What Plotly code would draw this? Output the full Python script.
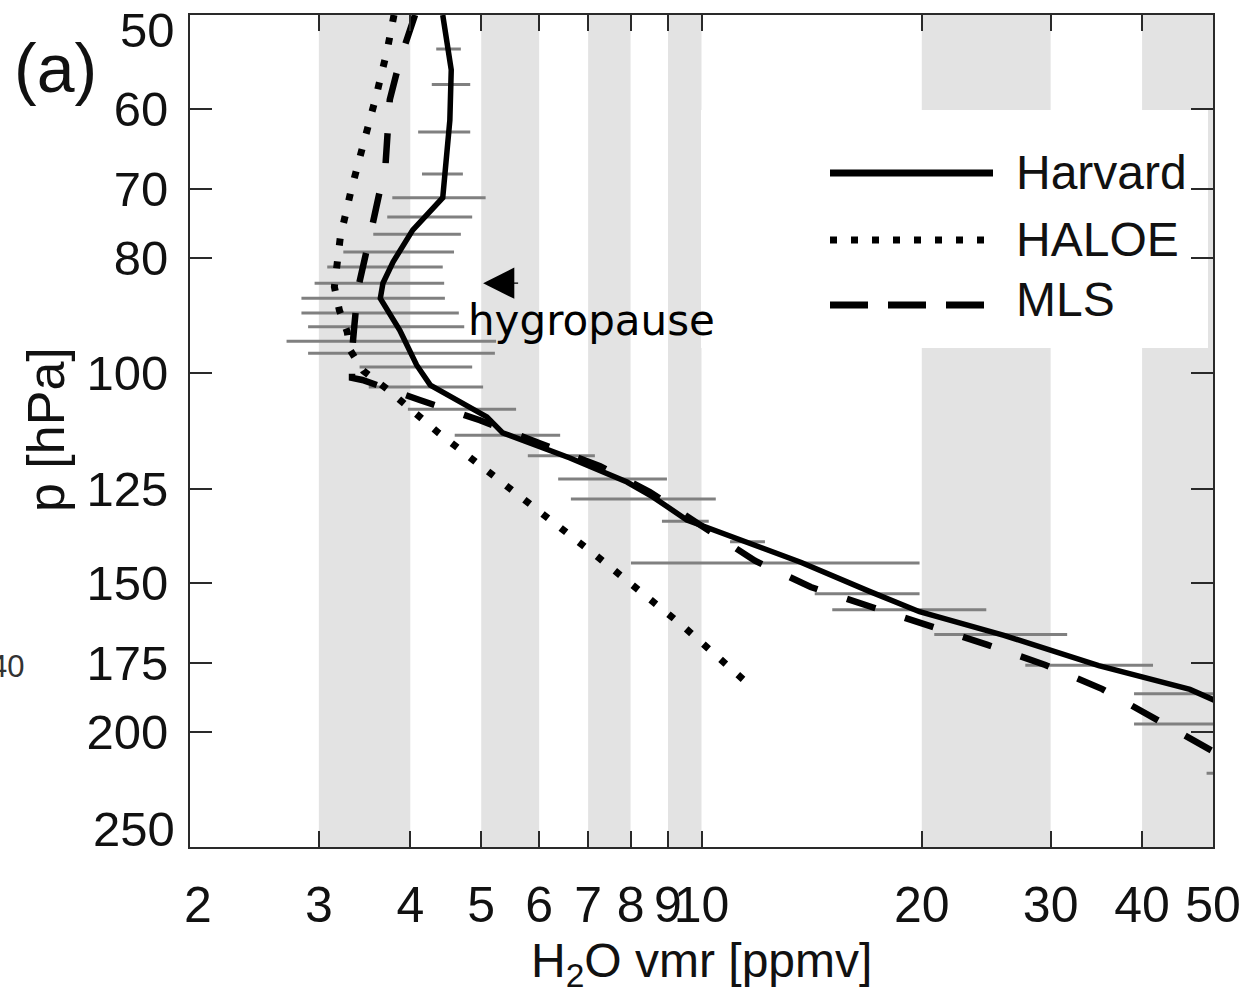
import plotly.graph_objects as go
import math

# ---------------- data ----------------
harvard_vmr = [4.43, 4.55, 4.53, 4.43, 4.03, 3.79, 3.67, 3.64, 3.87, 4.08, 4.26, 4.68, 5.09,
               5.35, 6.61, 7.91, 8.58, 9.55, 12.40, 13.69, 16.93, 19.86, 25.9, 34.9, 46.5, 50.5]
harvard_p = [50, 55.6, 61.3, 71.2, 75.8, 80.6, 84.0, 86.5, 92.0, 98.4, 102.3, 105.7, 108.8,
             112.2, 117.8, 123.4, 127.0, 132.8, 140.8, 144.2, 152.4, 158.6, 166.0, 176.0, 184.3, 188.5]

mls_vmr = [4.06, 3.87, 3.75, 3.70, 3.55, 3.39, 3.35, 3.33, 3.33, 3.44, 4.12, 4.98, 6.01,
           7.27, 8.50, 9.95, 11.83, 14.1, 16.98, 20.5, 24.6, 29.5, 35.3, 42.0, 50.5]
mls_p = [50, 54.6, 58.9, 66.8, 75.1, 85.1, 92.0, 96.0, 100.9, 101.3, 105.3, 109.5, 114.5,
         119.7, 125.8, 134.1, 143.7, 151.2, 156.9, 163.0, 169.1, 175.8, 184.2, 195.6, 208.5]

haloe_vmr = [3.80, 3.72, 3.59, 3.45, 3.32, 3.21, 3.15, 3.20, 3.28, 3.31, 3.45, 3.72, 4.37,
             7.19, 9.43, 11.75]
haloe_p = [50, 53.5, 58.6, 64.0, 70.2, 76.8, 84.6, 88.5, 92.3, 95.6, 99.5, 103.1, 112.2,
           142.4, 163.0, 183.8]

# variability range of the Harvard data (horizontal grey bars)
range_p = [53.4, 57.2, 62.7, 68.0, 71.2, 73.9, 76.4, 79.1, 81.4, 84.0, 86.5, 89.0, 91.4,
           94.0, 96.2, 98.8, 102.7, 107.2, 112.7, 117.3, 122.7, 127.5, 133.1, 138.5, 144.3,
           153.2, 158.0, 165.7, 175.9, 185.9, 197.1, 216.8]
range_lo = [4.34, 4.28, 4.10, 4.15, 3.78, 3.72, 3.56, 3.24, 3.08, 2.96, 2.84, 2.84, 2.90,
            2.71, 2.90, 3.41, 3.51, 3.97, 4.60, 5.79, 6.37, 6.63, 8.83, 10.94, 8.01,
            14.28, 15.09, 20.8, 27.7, 39.0, 39.0, 49.0]
range_hi = [4.69, 4.83, 4.83, 4.72, 5.07, 4.86, 4.69, 4.59, 4.43, 4.45, 4.46, 4.66, 4.74,
            5.24, 5.22, 4.86, 5.03, 5.58, 6.41, 7.15, 8.97, 10.46, 10.23, 12.21, 19.86,
            19.86, 24.5, 31.6, 41.4, 50.0, 55.0, 55.0]

# shaded vmr intervals
band_lo = [3, 5, 7, 9, 20, 40]
band_hi = [4, 6, 8, 10, 30, 50]

x_ticks = [2, 3, 4, 5, 6, 7, 8, 9, 10, 20, 30, 40, 50]
y_ticks = [50, 60, 70, 80, 100, 125, 150, 175, 200, 250]

series_names = ["Harvard", "HALOE", "MLS"]

# ---------------- styling / layout helpers ----------------
W, H = 1253, 992
PL, PR, PT, PB = 190, 1213, 15, 847
FONT = "Liberation Sans, Arial, sans-serif"
AXC = "#2a2a2a"
TXT = "#111"


def fx(px):
    return (px - PL) / (PR - PL)


def fy(py):
    return (PB - py) / (PB - PT)


DOT = "7px,16px"
DASH = "30px,31px"

fig = go.Figure()

# grey range bars
ex, ey = [], []
for p, lo, hi in zip(range_p, range_lo, range_hi):
    ex += [lo, hi, None]
    ey += [p, p, None]
fig.add_trace(go.Scatter(x=ex, y=ey, mode="lines", line=dict(color="#808080", width=3),
                         showlegend=False, hoverinfo="skip"))

fig.add_trace(go.Scatter(x=haloe_vmr, y=haloe_p, mode="lines", name=series_names[1],
                         line=dict(color="black", width=7, dash=DOT), showlegend=False))
fig.add_trace(go.Scatter(x=mls_vmr, y=mls_p, mode="lines", name=series_names[2],
                         line=dict(color="black", width=6.5, dash=DASH), showlegend=False))
fig.add_trace(go.Scatter(x=harvard_vmr, y=harvard_p, mode="lines", name=series_names[0],
                         line=dict(color="black", width=5.5), showlegend=False))

shapes = []
for lo, hi in zip(band_lo, band_hi):
    shapes.append(dict(type="rect", xref="x", yref="paper", x0=lo, x1=hi, y0=0, y1=1,
                       fillcolor="#e3e3e3", line=dict(width=0), layer="below"))
# white legend box
shapes.append(dict(type="rect", xref="paper", yref="paper", x0=fx(701), x1=fx(1208),
                   y0=fy(348), y1=fy(110), fillcolor="white", line=dict(width=0), layer="below"))
# legend samples
leg_y = [173, 240, 305]
leg_dash = ["solid", "7px,14px", "38px,20px"]
for yy, dd in zip(leg_y, leg_dash):
    shapes.append(dict(type="line", xref="paper", yref="paper", x0=fx(830), x1=fx(993),
                       y0=fy(yy), y1=fy(yy), line=dict(color="black", width=7, dash=dd),
                       layer="above"))

annotations = []
for name, yy in zip(series_names, [172, 239, 300]):
    annotations.append(dict(text=name, xref="paper", yref="paper", x=fx(1014), y=fy(yy),
                            xanchor="left", yanchor="middle", showarrow=False,
                            font=dict(family=FONT, size=48, color=TXT)))

# end tick labels shifted inwards, as in the original
annotations.append(dict(text="50", xref="paper", yref="paper", x=fx(177), y=fy(30),
                        xanchor="right", yanchor="middle", showarrow=False,
                        font=dict(family=FONT, size=49, color=TXT)))
annotations.append(dict(text="250", xref="paper", yref="paper", x=fx(177), y=fy(829),
                        xanchor="right", yanchor="middle", showarrow=False,
                        font=dict(family=FONT, size=49, color=TXT)))
annotations.append(dict(text="2", xref="paper", yref="paper", x=fx(198), y=fy(905),
                        xanchor="center", yanchor="middle", showarrow=False,
                        font=dict(family=FONT, size=50, color=TXT)))

# axis titles
annotations.append(dict(text="H<sub>2</sub>O vmr [ppmv]", xref="paper", yref="paper",
                        x=fx(701), y=fy(964), xanchor="center", yanchor="middle",
                        showarrow=False, font=dict(family=FONT, size=48, color=TXT)))
annotations.append(dict(text="p [hPa]", xref="paper", yref="paper", x=fx(46), y=fy(430),
                        xanchor="center", yanchor="middle", textangle=-90,
                        showarrow=False, font=dict(family=FONT, size=52, color=TXT)))
# panel letter
annotations.append(dict(text="(a)", xref="paper", yref="paper", x=fx(55), y=fy(68),
                        xanchor="center", yanchor="middle", showarrow=False,
                        font=dict(family=FONT, size=68, color=TXT)))
# neighbour panel fragment
annotations.append(dict(text="40", xref="paper", yref="paper", x=fx(26), y=fy(666),
                        xanchor="right", yanchor="middle", showarrow=False,
                        font=dict(family=FONT, size=31, color="#333")))
# hygropause arrow + label
annotations.append(dict(text=" ", xref="x", yref="y", x=math.log10(5.03), y=math.log10(84.0),
                        ax=38, ay=0, showarrow=True, arrowhead=2, arrowsize=5.2,
                        arrowwidth=1.2, arrowcolor="black", standoff=0))
annotations.append(dict(text="hygropause", xref="paper", yref="paper", x=fx(466), y=fy(320),
                        xanchor="left", yanchor="middle", showarrow=False,
                        font=dict(family="Comic Sans MS, DejaVu Sans, sans-serif", size=42,
                                  color="black")))

fig.update_layout(
    width=W, height=H, autosize=False,
    margin=dict(l=PL, r=W - PR, t=PT, b=H - PB, pad=0),
    paper_bgcolor="white", plot_bgcolor="white",
    shapes=shapes, annotations=annotations, showlegend=False,
)

fig.update_xaxes(type="log", range=[math.log10(2), math.log10(50)],
                 tickvals=x_ticks, ticktext=["" if v == 2 else str(v) for v in x_ticks],
                 tickangle=0,
                 ticks="inside", ticklen=16, tickwidth=2, tickcolor=AXC,
                 showline=True, linecolor=AXC, linewidth=2, mirror="ticks",
                 showgrid=False, zeroline=False, ticklabelstandoff=13,
                 tickfont=dict(family=FONT, size=50, color=TXT))
fig.update_yaxes(type="log", range=[math.log10(250), math.log10(50)],
                 tickvals=y_ticks, ticktext=["" if v in (50, 250) else str(v) for v in y_ticks],
                 ticks="inside", ticklen=22, tickwidth=2, tickcolor=AXC,
                 showline=True, linecolor=AXC, linewidth=2, mirror="ticks",
                 showgrid=False, zeroline=False, ticklabelstandoff=10,
                 tickfont=dict(family=FONT, size=49, color=TXT))

fig.write_html("out.html")
